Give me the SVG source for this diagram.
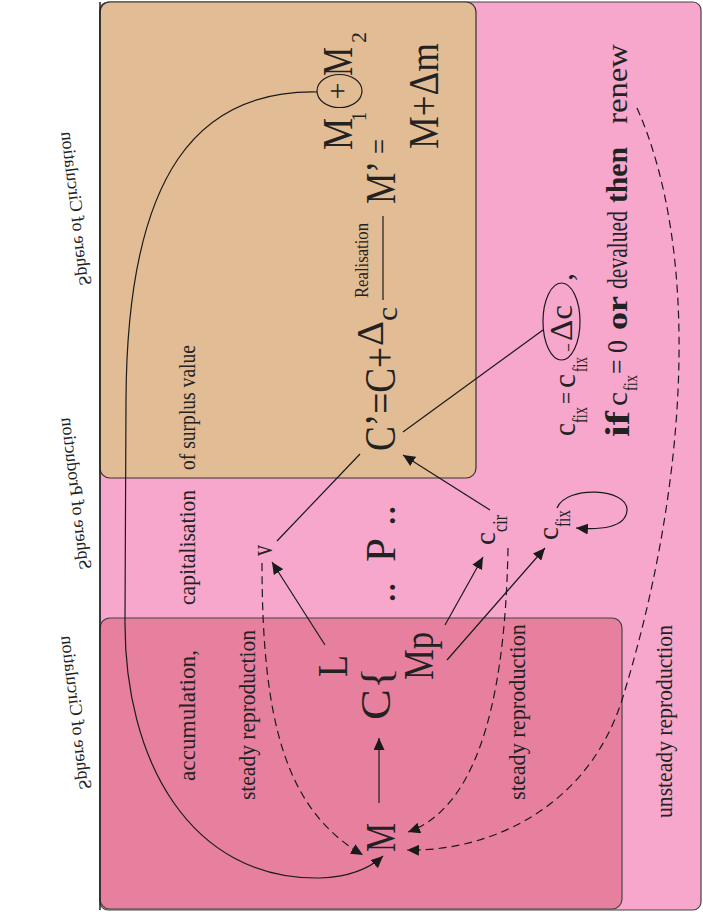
<svg xmlns="http://www.w3.org/2000/svg" width="703" height="917" viewBox="0 0 703 917">
<defs>
<style>
text{font-family:"Liberation Serif","Times New Roman",serif;fill:#222}
.lab{font-size:23px}
.big{font-size:42px}
.mid{font-size:30px}
.sub{font-size:20px}
.conn{fill:none;stroke:#1a1a1a;stroke-width:1.2}
.dash{stroke-dasharray:8,5}
.sph{font-size:18px}
</style>
<marker id="ah" viewBox="0 0 12 11" refX="12" refY="5.5" markerWidth="12" markerHeight="11" markerUnits="userSpaceOnUse" orient="auto">
<path d="M0,0 L12,5.5 L0,11 Z" fill="#1a1a1a"/>
</marker>
</defs>
<rect width="703" height="917" fill="#ffffff"/>
<g id="regions">
<rect x="100" y="2" width="601" height="908" rx="8" fill="#F7A7CB" stroke="#444" stroke-width="1.2"/>
<rect x="100" y="2" width="376" height="476" rx="10" fill="#E2BC94" stroke="#333" stroke-width="1.2"/>
<rect x="100" y="618" width="522" height="291" rx="10" fill="#E6809E" stroke="#444" stroke-width="1.2"/>
<line x1="100" y1="2" x2="100" y2="910" stroke="#222" stroke-width="1.5"/>
</g>
<g id="sphere-labels">
<text class="sph" transform="matrix(-0.122,-0.993,-0.993,0.122,80,286)">Sphere of Circulation</text>
<text class="sph" transform="matrix(-0.122,-0.993,-0.993,0.122,80,570)">Sphere of Production</text>
<text class="sph" transform="matrix(-0.122,-0.993,-0.993,0.122,80,790)">Sphere of Circulation</text>
</g>
<g id="region-labels">
<text class="lab" transform="translate(195,470) rotate(-90)" textLength="125" lengthAdjust="spacingAndGlyphs">of surplus value</text>
<text class="lab" transform="translate(195,605) rotate(-90)" textLength="115" lengthAdjust="spacingAndGlyphs">capitalisation</text>
<text class="lab" transform="translate(195,781) rotate(-90)" textLength="131" lengthAdjust="spacingAndGlyphs">accumulation,</text>
<text class="lab" transform="translate(255,800) rotate(-90)" textLength="170" lengthAdjust="spacingAndGlyphs">steady reproduction</text>
<text class="lab" transform="translate(525,800) rotate(-90)" textLength="176" lengthAdjust="spacingAndGlyphs">steady reproduction</text>
<text class="lab" transform="translate(672,818) rotate(-90)" textLength="193" lengthAdjust="spacingAndGlyphs">unsteady reproduction</text>
</g>
<g id="node-M1M2">
<text class="big" transform="translate(352,150) rotate(-90)" textLength="32" lengthAdjust="spacingAndGlyphs">M</text>
<text style="font-size:22px" transform="translate(366,121) rotate(-90)" textLength="9" lengthAdjust="spacingAndGlyphs">1</text>
<ellipse cx="339.5" cy="91" rx="22.5" ry="16.5" fill="none" stroke="#1a1a1a" stroke-width="1.2"/>
<text style="font-size:30px" text-anchor="middle" transform="translate(347,91) rotate(-90)">+</text>
<text class="big" transform="translate(352,76) rotate(-90)" textLength="29" lengthAdjust="spacingAndGlyphs">M</text>
<text style="font-size:22px" transform="translate(366,43) rotate(-90)" textLength="11" lengthAdjust="spacingAndGlyphs">2</text>
</g>
<g id="node-Mprime">
<text class="big" transform="translate(395,204) rotate(-90)" textLength="43" lengthAdjust="spacingAndGlyphs">M’</text>
<text style="font-size:32px" transform="translate(390,154) rotate(-90)" textLength="15" lengthAdjust="spacingAndGlyphs">=</text>
<text class="big" transform="translate(438,149) rotate(-90)" textLength="106" lengthAdjust="spacingAndGlyphs">M+Δm</text>
</g>
<g id="node-Cprime">
<text style="font-size:44px" transform="translate(395,451) rotate(-90)" textLength="104" lengthAdjust="spacingAndGlyphs">C’=C+</text>
<text style="font-size:38px" transform="translate(383,346) rotate(-90)" textLength="25" lengthAdjust="spacingAndGlyphs">Δ</text>
<text class="mid" transform="translate(397,321) rotate(-90)" textLength="14" lengthAdjust="spacingAndGlyphs">c</text>
<text style="font-size:18px" transform="translate(368,298) rotate(-90)" textLength="75" lengthAdjust="spacingAndGlyphs">Realisation</text>
<line x1="383" y1="216" x2="383" y2="300" stroke="#1a1a1a" stroke-width="1.2"/>
</g>
<g id="node-cfix-eq">
<text style="font-size:32px" transform="translate(575,436) rotate(-90)" textLength="13" lengthAdjust="spacingAndGlyphs">c</text>
<text class="sub" transform="translate(587,423) rotate(-90)" textLength="16" lengthAdjust="spacingAndGlyphs">fix</text>
<text style="font-size:26px" transform="translate(575,404) rotate(-90)" textLength="12" lengthAdjust="spacingAndGlyphs">=</text>
<text style="font-size:32px" transform="translate(575,388) rotate(-90)" textLength="14" lengthAdjust="spacingAndGlyphs">c</text>
<text class="sub" transform="translate(587,372) rotate(-90)" textLength="15" lengthAdjust="spacingAndGlyphs">fix</text>
<text class="sub" transform="translate(574,351) rotate(-90)" textLength="7" lengthAdjust="spacingAndGlyphs">–</text>
<text style="font-size:32px" transform="translate(572,341) rotate(-90)" textLength="36" lengthAdjust="spacingAndGlyphs">Δc</text>
<ellipse cx="561.5" cy="321.5" rx="18.5" ry="38.5" fill="none" stroke="#1a1a1a" stroke-width="1.2"/>
<text style="font-size:32px" transform="translate(572,281) rotate(-90)">,</text>
</g>
<g id="node-if">
<text style="font-size:34px;font-weight:bold" transform="translate(629,437) rotate(-90)" textLength="26" lengthAdjust="spacingAndGlyphs">if</text>
<text class="mid" transform="translate(627,406) rotate(-90)" textLength="14" lengthAdjust="spacingAndGlyphs">c</text>
<text style="font-size:18px" transform="translate(637,391) rotate(-90)" textLength="16" lengthAdjust="spacingAndGlyphs">fix</text>
<text class="mid" transform="translate(627,374) rotate(-90)" textLength="34" lengthAdjust="spacingAndGlyphs">= 0</text>
<text class="mid" style="font-weight:bold" transform="translate(627,330) rotate(-90)" textLength="34" lengthAdjust="spacingAndGlyphs">or</text>
<text class="mid" transform="translate(627,289) rotate(-90)" textLength="78" lengthAdjust="spacingAndGlyphs">devalued</text>
<text class="mid" style="font-weight:bold" transform="translate(627,203) rotate(-90)" textLength="56" lengthAdjust="spacingAndGlyphs">then</text>
<text class="mid" transform="translate(627,124) rotate(-90)" textLength="80" lengthAdjust="spacingAndGlyphs">renew</text>
</g>
<g id="node-P">
<text class="big" transform="translate(395,603) rotate(-90)">..</text>
<text class="big" transform="translate(395,562) rotate(-90)" textLength="24" lengthAdjust="spacingAndGlyphs">P</text>
<text class="big" transform="translate(395,526) rotate(-90)">..</text>
</g>
<g id="node-v"><text class="mid" transform="translate(272,556) rotate(-90)" textLength="11" lengthAdjust="spacingAndGlyphs">v</text></g>
<g id="node-L"><text class="big" transform="translate(347,677) rotate(-90)" textLength="22" lengthAdjust="spacingAndGlyphs">L</text></g>
<g id="node-C"><text class="big" transform="translate(390,720) rotate(-90)" textLength="53" lengthAdjust="spacingAndGlyphs">C{</text></g>
<g id="node-Mp"><text class="big" transform="translate(433,680) rotate(-90)" textLength="48" lengthAdjust="spacingAndGlyphs">Mp</text></g>
<g id="node-M"><text class="big" transform="translate(395,852) rotate(-90)" textLength="29" lengthAdjust="spacingAndGlyphs">M</text></g>
<g id="node-ccir">
<text class="mid" transform="translate(495,545) rotate(-90)" textLength="13" lengthAdjust="spacingAndGlyphs">c</text>
<text class="sub" transform="translate(507,532) rotate(-90)" textLength="17" lengthAdjust="spacingAndGlyphs">cir</text>
</g>
<g id="node-cfix">
<text class="mid" transform="translate(558,540) rotate(-90)" textLength="13" lengthAdjust="spacingAndGlyphs">c</text>
<text class="sub" transform="translate(570,527) rotate(-90)" textLength="17" lengthAdjust="spacingAndGlyphs">fix</text>
</g>
<g id="connectors">
<path class="conn" d="M317,92 C200,90 127,170 126,400 L125,620 C124,760 190,880 320,878 C350,877 370,868 383,856" marker-end="url(#ah)"/>
<path class="conn dash" d="M262,563 C262,720 285,810 363,855" marker-end="url(#ah)"/>
<path class="conn dash" d="M508,548 C505,720 470,810 408,832" marker-end="url(#ah)"/>
<path class="conn dash" d="M637,108 C700,250 690,480 622,700 C585,815 480,852 407,850" marker-end="url(#ah)"/>
<path class="conn" d="M379,803 L379,738" marker-end="url(#ah)"/>
<path class="conn" d="M325,645 L272,562" marker-end="url(#ah)"/>
<path class="conn" d="M277,541 L360,454"/>
<path class="conn" d="M445,625 L483,557" marker-end="url(#ah)"/>
<path class="conn" d="M447,660 L545,548" marker-end="url(#ah)"/>
<path class="conn" d="M490,510 L403,455" marker-end="url(#ah)"/>
<path class="conn" d="M403,432 L543,330"/>
<path class="conn" d="M557,508 C566,485 628,488 627,510 C626,528 600,530 576,528" marker-end="url(#ah)"/>
</g>
</svg>
